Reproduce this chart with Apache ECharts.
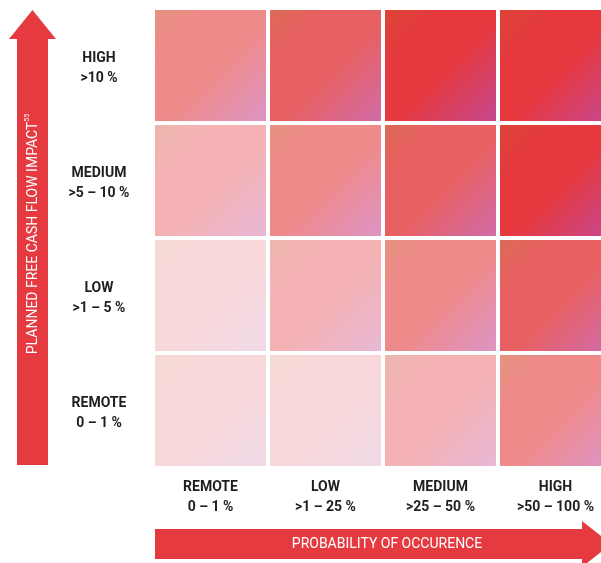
<!DOCTYPE html>
<html>
<head>
<meta charset="utf-8">
<script src="https://cdn.jsdelivr.net/npm/echarts@6/dist/echarts.min.js"></script>
<style>
  html, body { margin: 0; padding: 0; background: #fff; }
  #chart { width: 601px; height: 563px; }
</style>
</head>
<body>
<div id="chart"></div>
<script>
// Risk matrix: probability of occurrence (columns) vs. planned free cash flow impact (rows)
const probabilityLabels = ['REMOTE\n0 – 1 %', 'LOW\n>1 – 25 %', 'MEDIUM\n>25 – 50 %', 'HIGH\n>50 – 100 %'];
const impactLabels = ['REMOTE\n0 – 1 %', 'LOW\n>1 – 5 %', 'MEDIUM\n>5 – 10 %', 'HIGH\n>10 %'];
// risk level per impact row (remote -> high), one entry per probability column
const riskRemote = [1, 1, 2, 3];
const riskLow    = [1, 2, 3, 4];
const riskMedium = [2, 3, 4, 5];
const riskHigh   = [3, 4, 5, 5];
const riskRows = [riskRemote, riskLow, riskMedium, riskHigh];

// shading per risk level: [top-left tint, base, bottom-right tint]
const levelShades = {
  1: ['#F4DAD3', '#F8D8DA', '#F0DAE8'],
  2: ['#ECB6AC', '#F4B2B4', '#E8B8D6'],
  3: ['#E6927F', '#EF8A8B', '#DC94C4'],
  4: ['#DC6A56', '#E86062', '#D06CA8'],
  5: ['#DC4436', '#E5393F', '#C84890']
};
const arrowRed = '#E53A40';
const FONT = "Roboto, 'Liberation Sans', sans-serif";

const cells = [];
riskRows.forEach((row, r) => row.forEach((lvl, c) => cells.push([c, r, lvl])));

const labelText = { color: '#1e1e1e', fontFamily: FONT, fontWeight: 'bold', fontSize: 14, lineHeight: 20, align: 'center' };

const chart = echarts.init(document.getElementById('chart'), null, { renderer: 'canvas' });

const gap = 4;
chart.setOption({
  backgroundColor: '#ffffff',
  animation: false,
  grid: { left: 153, top: 8, width: 460, height: 460, containLabel: false, outerBoundsMode: 'none' },
  xAxis: {
    type: 'category',
    data: probabilityLabels,
    axisLine: { show: false },
    axisTick: { show: false },
    splitLine: { show: false },
    axisLabel: Object.assign({ interval: 0, hideOverlap: false, margin: 9 }, labelText)
  },
  yAxis: {
    type: 'category',
    data: impactLabels,
    axisLine: { show: false },
    axisTick: { show: false },
    splitLine: { show: false },
    axisLabel: Object.assign({
      interval: 0,
      margin: 54,
      // small spacer line on top nudges the two-line block down a little
      formatter: v => '{g| }\n' + v.split('\n').map(s => '{t|' + s + '}').join('\n'),
      rich: {
        g: { fontSize: 1, lineHeight: 6 },
        t: Object.assign({}, labelText)
      }
    }, labelText)
  },
  series: [{
    type: 'custom',
    data: cells,
    encode: { x: 0, y: 1 },
    clip: false,
    renderItem: function (params, api) {
      const center = api.coord([api.value(0), api.value(1)]);
      const size = api.size([1, 1]);
      const shade = levelShades[api.value(2)];
      return {
        type: 'rect',
        shape: {
          x: center[0] - size[0] / 2 + gap / 2,
          y: center[1] - size[1] / 2 + gap / 2,
          width: size[0] - gap,
          height: size[1] - gap
        },
        style: {
          fill: new echarts.graphic.LinearGradient(0, 0, 1, 1, [
            { offset: 0, color: shade[0] },
            { offset: 0.25, color: shade[1] },
            { offset: 0.55, color: shade[1] },
            { offset: 1, color: shade[2] }
          ])
        }
      };
    }
  }],
  graphic: [
    {
      // vertical impact arrow
      type: 'polygon',
      shape: { points: [[17, 465], [17, 39], [9, 39], [32.5, 10], [56, 39], [48, 39], [48, 465]] },
      style: { fill: arrowRed }
    },
    {
      type: 'text',
      x: 32,
      y: 234,
      rotation: Math.PI / 2,
      style: {
        text: '{t|PLANNED FREE CASH FLOW IMPACT}{s|55}',
        align: 'center',
        verticalAlign: 'middle',
        rich: {
          t: { fontFamily: FONT, fontSize: 14, fill: '#fff', lineHeight: 16, verticalAlign: 'bottom' },
          s: { fontFamily: FONT, fontSize: 7, fill: '#fff', lineHeight: 16, verticalAlign: 'top' }
        }
      }
    },
    {
      // horizontal probability arrow
      type: 'polygon',
      shape: { points: [[155, 529], [582, 529], [582, 521], [611, 544], [582, 567], [582, 559], [155, 559]] },
      style: { fill: arrowRed }
    },
    {
      type: 'text',
      x: 387,
      y: 544,
      style: {
        text: 'PROBABILITY OF OCCURENCE',
        fontFamily: FONT,
        fontSize: 14,
        fill: '#fff',
        align: 'center',
        verticalAlign: 'middle'
      }
    }
  ]
});
</script>
</body>
</html>
